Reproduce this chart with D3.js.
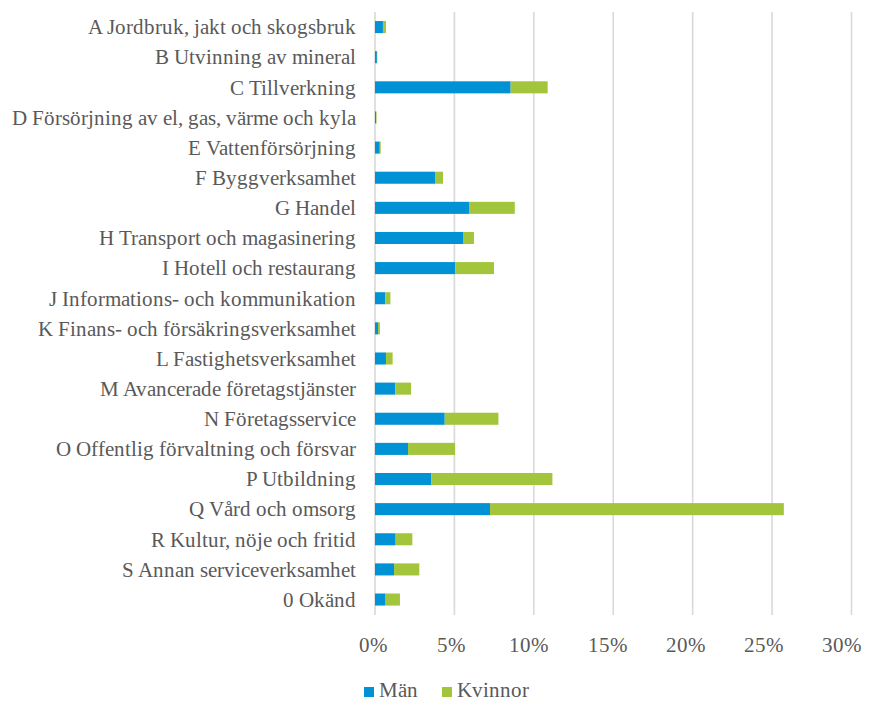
<!DOCTYPE html>
<html><head><meta charset="utf-8">
<script src="https://cdn.jsdelivr.net/npm/d3@7"></script>
<style>
@font-face{font-family:"RefSerif";src:local("Liberation Serif"),local("LiberationSerif"),local("LiberationSerif-Regular"),local("Tinos"),local("Times New Roman");}
html,body{margin:0;padding:0;background:#fff;overflow:hidden}
</style>
</head><body>
<svg id="c" width="872" height="701"></svg>
<script>
const categories = [
  "A Jordbruk, jakt och skogsbruk",
  "B Utvinning av mineral",
  "C Tillverkning",
  "D Försörjning av el, gas, värme och kyla",
  "E Vattenförsörjning",
  "F Byggverksamhet",
  "G Handel",
  "H Transport och magasinering",
  "I Hotell och restaurang",
  "J Informations- och kommunikation",
  "K Finans- och försäkringsverksamhet",
  "L Fastighetsverksamhet",
  "M Avancerade företagstjänster",
  "N Företagsservice",
  "O Offentlig förvaltning och försvar",
  "P Utbildning",
  "Q Vård och omsorg",
  "R Kultur, nöje och fritid",
  "S Annan serviceverksamhet",
  "0 Okänd"
];
const man     = [0.50, 0.12, 8.54, 0.07, 0.30, 3.78, 5.92, 5.54, 5.06, 0.65, 0.19, 0.69, 1.28, 4.39, 2.08, 3.55, 7.24, 1.30, 1.20, 0.63];
const kvinnor = [0.19, 0.02, 2.33, 0.03, 0.06, 0.50, 2.88, 0.69, 2.43, 0.32, 0.12, 0.42, 0.99, 3.38, 2.96, 7.62, 18.50, 1.05, 1.59, 0.94];
const tickValues = [0, 5, 10, 15, 20, 25, 30];
const seriesNames = ["Män", "Kvinnor"];
const colors = ["#0092D5", "#A2C53B"];

const svg = d3.select("#c");
const FONT = "RefSerif, 'Liberation Serif', Tinos, 'Times New Roman', serif";
const textColor = "#595959";

const x = d3.scaleLinear().domain([0, 30]).range([375, 851.5]);
const xLab = d3.scaleLinear().domain([0, 30]).range([373, 842]);
const y = d3.scaleBand().domain(categories).range([12, 614.6]).paddingInner(0.6).paddingOuter(0.3);

// gridlines
svg.append("g").selectAll("line").data(tickValues).join("line")
  .attr("x1", d => x(d)).attr("x2", d => x(d))
  .attr("y1", 12).attr("y2", 615)
  .attr("stroke", "#d9d9d9").attr("stroke-width", 1.6);

const rows = categories.map((c, i) => ({c, m: man[i], k: kvinnor[i]}));

// bars
const g = svg.append("g");
g.selectAll("rect.m").data(rows).join("rect").attr("class","m")
  .attr("x", x(0)).attr("y", d => y(d.c))
  .attr("width", d => x(d.m) - x(0)).attr("height", y.bandwidth())
  .attr("fill", colors[0]);
g.selectAll("rect.k").data(rows).join("rect").attr("class","k")
  .attr("x", d => x(d.m)).attr("y", d => y(d.c))
  .attr("width", d => x(d.m + d.k) - x(d.m)).attr("height", y.bandwidth())
  .attr("fill", colors[1]);

// category labels
svg.append("g").selectAll("text").data(categories).join("text")
  .attr("x", 356).attr("y", d => y(d) + y.bandwidth()/2 + 7.3)
  .attr("text-anchor", "end")
  .style("font-family", FONT).style("font-size", "21px").attr("fill", textColor)
  .text(d => d);

// tick labels
svg.append("g").selectAll("text").data(tickValues).join("text")
  .attr("x", d => xLab(d)).attr("y", 652)
  .attr("text-anchor", "middle")
  .style("font-family", FONT).style("font-size", "21px").attr("fill", textColor)
  .text(d => d + "%");

// legend
const legX = [364, 442];
const leg = svg.append("g");
seriesNames.forEach((n, i) => {
  leg.append("rect").attr("x", legX[i]).attr("y", 687).attr("width", 10).attr("height", 10).attr("fill", colors[i]);
  leg.append("text").attr("x", legX[i] + 15).attr("y", 697)
    .style("font-family", FONT).style("font-size", "21px").attr("fill", textColor).text(n);
});
</script>
</body></html>
